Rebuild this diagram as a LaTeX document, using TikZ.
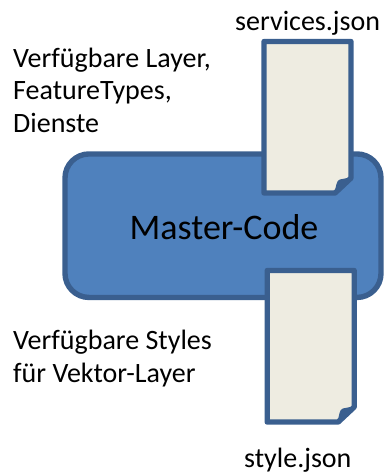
\documentclass[tikz,border=0pt]{standalone}
\usepackage{fontspec}
\setmainfont{Carlito}
\definecolor{fillblue}{HTML}{4F81BD}
\definecolor{edgeblue}{HTML}{3A5F8F}
\definecolor{paper}{HTML}{EEECE1}
\tikzset{
  lbl/.style={inner sep=0pt,font=\fontsize{28}{32.7}\selectfont,align=left,anchor=north west,text=black},
  lblone/.style={lbl,anchor=base west},
  doc/.style={draw=edgeblue,fill=paper,line width=5.4pt,line join=round},
  foldmark/.style={fill=edgeblue,draw=edgeblue,line width=1pt,line join=round}
}
\begin{document}
\begin{tikzpicture}[x=1pt,y=-1pt]
\useasboundingbox (0,0) rectangle (384,475);
\node[draw=edgeblue,fill=fillblue,line width=5.4pt,rounded corners=24pt,minimum width=316pt,minimum height=143.5pt,inner sep=0pt] (master) at (223,225.7) {};
\node[inner sep=0pt,font=\fontsize{36}{40}\selectfont] (mastertext) at (224,227) {Master-Code};
% document 1
\draw[doc] (264,41.5) -- (351,41.5) -- (351,178) -- (335,193) -- (264,193) -- cycle;
\fill[foldmark] (335,192) .. controls (337,185) and (337,181) .. (340,180) -- (350,178) -- cycle;
% document 2
\draw[doc] (267.2,270.5) -- (354.2,270.5) -- (354.2,407) -- (338.2,422) -- (267.2,422) -- cycle;
\fill[foldmark] (338.2,421) .. controls (340,414) and (340,410) .. (343,409) -- (353,407) -- cycle;
\node[lblone] (t1) at (235,30) {services.json};
\node[lbl] (t2) at (13,47.5) {Verfügbare Layer,\\FeatureTypes,\\Dienste};
\node[lbl] (t3) at (13,330) {Verfügbare Styles\\für Vektor-Layer};
\node[lblone] (t4) at (244,467.5) {style.json};
\end{tikzpicture}
\end{document}
